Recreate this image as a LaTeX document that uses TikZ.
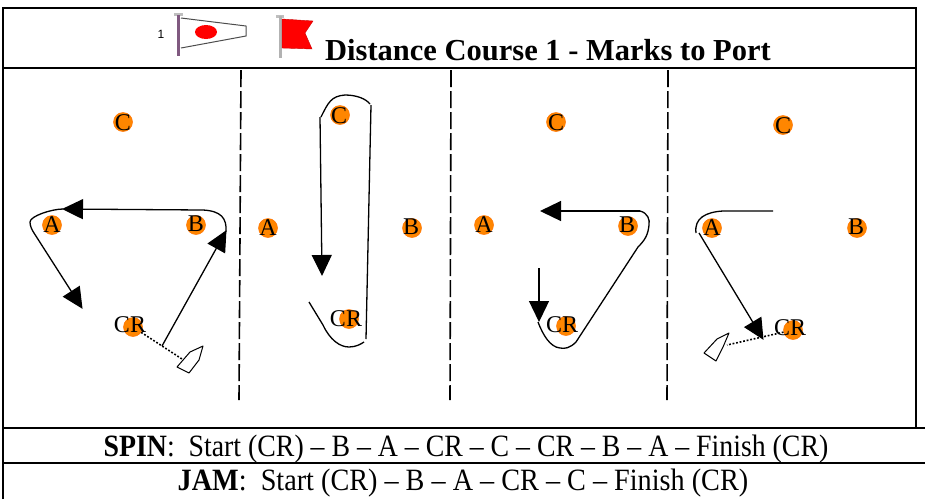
\documentclass[tikz,border=0pt]{standalone}
\usepackage{fontspec}
\setmainfont{Liberation Serif}
\newfontfamily\flagfont{Liberation Sans}
\usetikzlibrary{arrows.meta}
\tikzset{
  frameline/.style={line width=2.4pt},
  gateline/.style={line width=1.6pt,dash pattern=on 17pt off 4pt},
  track/.style={line width=1.3pt,line join=round},
  trackhead/.style={track,-{Triangle[length=21pt,width=20pt]},shorten >=-1pt},
  buoy/.style={circle,fill=orange!95!yellow,draw=orange!90!red,line width=.5pt,minimum size=19pt,inner sep=0pt},
  buoytext/.style={inner sep=0pt,font=\fontsize{24}{24}\selectfont},
  startline/.style={line width=1.6pt,dash pattern=on 1.8pt off 1.8pt},
  boat/.style={line width=1pt,fill=white,line join=round},
  wording/.style={inner sep=0pt,font=\fontsize{31}{31}\selectfont}
}
\newcommand*{\crmark}[3]{% mark with the letters set a little off its centre
  \node[buoy] (#3) at #1 {};
  \node[buoytext] (#3t) at #2 {CR};}
\begin{document}
\begin{tikzpicture}[x=1pt,y=-1pt]
\useasboundingbox (0,0) rectangle (925,499);
% Frame and rows
\draw[frameline] (3,499) -- (3,8) -- (916,8) -- (916,428);
\draw[frameline] (3,68) -- (916,68);
\draw[frameline] (3,428) -- (925,428);
\draw[frameline] (3,463) -- (925,463);
% Gate lines between the panels
\draw[gateline] (241,70) -- (239,400);
\draw[gateline] (451,70) -- (450,400);
\draw[gateline] (668,70) -- (667,400);
% Header flags
\node[inner sep=0pt,font=\flagfont\fontsize{12}{12}\selectfont] (one) at (161,34) {1};
\fill[gray!50] (174,13) rectangle (183,16);
\draw[line width=3pt,gray!70!violet] (178,15) -- (178,56);
\draw[line width=1pt,gray!60!black] (181,18) -- (246,26) -- (246,36) -- (181,48);
\fill[red] (206,32) ellipse [x radius=11pt,y radius=7pt];
\fill[gray!50] (276,15) rectangle (284,18);
\draw[line width=3pt,gray!60] (280,16) -- (280,58);
\fill[red,draw=red!80!black,line width=.4pt] (282,19) -- (313,21) -- (305,33) -- (312,49) -- (282,48) -- cycle;
\node[wording,anchor=base west,font=\fontsize{30.5}{31}\selectfont\bfseries] (title) at (325,60)
  {Distance Course 1 - Marks to Port};
%% First panel
\node[buoy] (c1) at (123,122) {};
\node[buoytext] (c1t) at (123,123) {C};
\node[buoy] (a1) at (52,225) {};
\node[buoytext] (a1t) at (52,225) {A};
\node[buoy] (b1) at (196,225) {};
\node[buoytext] (b1t) at (196,224) {B};
\crmark{(133,327)}{(130,325)}{cr1}
\draw[startline] (cr1) -- (182,359);
\draw[boat] (177,367) -- (189,373) -- (199,360) -- (203,346) -- (190,352) -- cycle;
\draw[trackhead] (162,346) -- (226,231);
\draw[trackhead] (226,232) .. controls (227,218) and (221,211) .. (203,210) -- (63,209);
\draw[trackhead] (63,209) .. controls (52,209) and (30,216) .. (30,222) .. controls (30,226) and (32,230) .. (34,233) -- (82,308);
%% Second panel
\node[buoy] (c2) at (340,115) {};
\node[buoytext] (c2t) at (339,116) {C};
\node[buoy] (a2) at (268,228) {};
\node[buoytext] (a2t) at (268,228) {A};
\node[buoy] (b2) at (412,228) {};
\node[buoytext] (b2t) at (411,227) {B};
\crmark{(349,319)}{(346,319)}{cr2}
\draw[track] (371,105) -- (366,339);
\draw[track] (321,117) .. controls (328,103) and (331,96) .. (345,95) .. controls (357,95) and (366,99) .. (370,104);
\draw[trackhead] (320,117) -- (322,275);
\draw[track] (309,302) -- (323,325) .. controls (330,340) and (340,347) .. (349,347) .. controls (356,347) and (361,344) .. (364,342);
%% Third panel
\node[buoy] (c3) at (556,122) {};
\node[buoytext] (c3t) at (556,123) {C};
\node[buoy] (a3) at (484,225) {};
\node[buoytext] (a3t) at (484,225) {A};
\node[buoy] (b3) at (628,226) {};
\node[buoytext] (b3t) at (627,225) {B};
\crmark{(566,326)}{(562,325)}{cr3}
\draw[trackhead] (640,211) -- (541,211);
\draw[track] (640,211) .. controls (648,213) and (650,220) .. (649,225) .. controls (648,235) and (645,240) .. (638,247) -- (576,342) .. controls (570,348) and (565,349) .. (560,348) .. controls (550,347) and (543,335) .. (538,322);
\draw[trackhead] (539,268) -- (539,321);
%% Fourth panel
\node[buoy] (c4) at (783,125) {};
\node[buoytext] (c4t) at (783,126) {C};
\node[buoy] (a4) at (712,228) {};
\node[buoytext] (a4t) at (712,228) {A};
\node[buoy] (b4) at (857,228) {};
\node[buoytext] (b4t) at (856,227) {B};
\crmark{(793,330)}{(790,328)}{cr4}
\draw[track] (773,211) -- (723,211) .. controls (706,212) and (694,218) .. (696,233);
\draw[trackhead] (699,233) -- (763,339);
\draw[startline] (cr4) -- (727,345);
\draw[boat] (704,353) -- (716,361) -- (723,347) -- (729,333) -- (717,339) -- cycle;
% Course wording
\node[wording] (spin) at (466,449) {\scalebox{.897}[1]{\textbf{SPIN}:\ \ Start (CR) -- B -- A -- CR -- C -- CR -- B -- A -- Finish (CR)}};
\node[wording] (jam) at (463,483) {\scalebox{.91}[1]{\textbf{JAM}:\ \ Start (CR) -- B -- A -- CR -- C -- Finish (CR)}};
\end{tikzpicture}
\end{document}
